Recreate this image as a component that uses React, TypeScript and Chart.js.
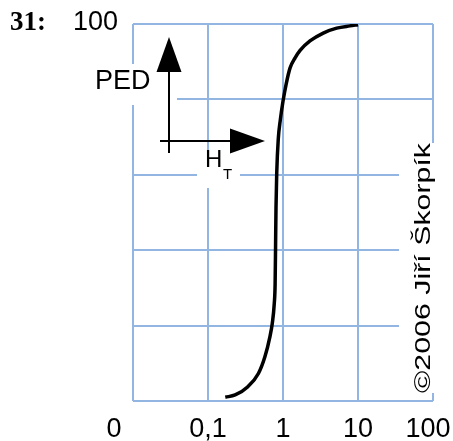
import React, { useEffect, useRef } from "react";
import { Chart, registerables } from "chart.js";

Chart.register(...registerables);

// x axis: H_T on a decade (log) scale, labels as printed in the figure
const xTickValues = [0.01, 0.1, 1, 10, 100];
const xTickLabels = ["0", "0,1", "1", "10", "100"];
const yTickValues = [0, 20, 40, 60, 80, 100];
const yTopLabel = "100";
const figureNumber = "31:";
const yAxisName = "PED";
const xAxisName = "H";
const xAxisSub = "T";
const copyright = "©2006 Jiří Škorpík";

// curve
const hValues = [0.17, 0.23, 0.34, 0.47, 0.575, 0.67, 0.72, 0.765, 0.785, 0.797, 0.807, 0.825, 0.865, 0.92, 1.0, 1.1, 1.24, 1.45, 1.69, 2.29, 3.44, 5.2, 7.8, 10];
const pedValues = [1.0, 1.6, 3.8, 7.3, 11.8, 17.1, 20.6, 25.9, 31, 42, 51.5, 60.5, 69.5, 74.5, 79.5, 84, 88.3, 91, 93, 95.5, 97.6, 98.9, 99.5, 99.8];

const GRID = "#93b5e1";

const overlay = {
  id: "overlay",
  beforeDatasetsDraw(chart: any) {
    const ctx = chart.ctx as CanvasRenderingContext2D;
    const xs = chart.scales.x;
    const ys = chart.scales.y;
    ctx.save();
    // white backgrounds that interrupt the grid
    ctx.fillStyle = "#ffffff";
    ctx.fillRect(92, 64, 85, 41);
    ctx.fillRect(197, 151, 43, 37);
    ctx.fillRect(399, 143, 42, 250);

    ctx.fillStyle = "#000000";
    ctx.strokeStyle = "#000000";
    ctx.textBaseline = "alphabetic";

    // figure number
    ctx.font = "bold 27px 'Liberation Serif', 'Times New Roman', serif";
    ctx.textAlign = "left";
    ctx.fillText(figureNumber, 10, 30);

    // top y label
    ctx.font = "27px 'Liberation Sans', Arial, sans-serif";
    ctx.textAlign = "right";
    ctx.fillText(yTopLabel, xs.left - 15, ys.getPixelForValue(100) + 6);

    // x tick labels
    ctx.textAlign = "center";
    xTickValues.forEach((v, i) => {
      let px = xs.getPixelForValue(v);
      if (i === 0) px -= 19;
      if (i === xTickValues.length - 1) px -= 5;
      ctx.fillText(xTickLabels[i], px, ys.bottom + 36);
    });

    // PED
    ctx.textAlign = "left";
    ctx.fillText(yAxisName, 95, 89);

    // H_T
    ctx.font = "24px 'Liberation Sans', Arial, sans-serif";
    ctx.fillText(xAxisName, 205, 167);
    ctx.font = "15px 'Liberation Sans', Arial, sans-serif";
    ctx.fillText(xAxisSub, 223, 179);

    // arrows
    ctx.lineWidth = 2;
    ctx.beginPath();
    ctx.moveTo(169, 153);
    ctx.lineTo(169, 70);
    ctx.moveTo(160, 141);
    ctx.lineTo(232, 141);
    ctx.stroke();
    ctx.beginPath();
    ctx.moveTo(169, 37);
    ctx.lineTo(156.5, 72);
    ctx.lineTo(181.5, 72);
    ctx.closePath();
    ctx.fill();
    ctx.beginPath();
    ctx.moveTo(265, 141);
    ctx.lineTo(230, 128.5);
    ctx.lineTo(230, 153.5);
    ctx.closePath();
    ctx.fill();

    // copyright, rotated
    ctx.save();
    ctx.translate(430, 393);
    ctx.rotate(-Math.PI / 2);
    ctx.font = "22px 'Liberation Sans', Arial, sans-serif";
    const w = ctx.measureText(copyright).width;
    ctx.scale(250 / w, 1);
    ctx.textAlign = "left";
    ctx.fillText(copyright, 0, 0);
    ctx.restore();

    ctx.restore();
  },
};

export default function App() {
  const ref = useRef<HTMLCanvasElement>(null);
  useEffect(() => {
    document.body.style.margin = "0";
    const canvas = ref.current!;
    const chart = new Chart(canvas, {
      type: "line",
      data: {
        datasets: [
          {
            data: hValues.map((h, i) => ({ x: h, y: pedValues[i] })),
            borderColor: "#000000",
            borderWidth: 3.5,
            pointRadius: 0,
            cubicInterpolationMode: "monotone",
            fill: false,
          },
        ],
      },
      options: {
        animation: false,
        responsive: false,
        devicePixelRatio: 1,
        layout: { padding: { left: 133, right: 20, top: 24, bottom: 40 } },
        plugins: { legend: { display: false }, tooltip: { enabled: false } },
        scales: {
          x: {
            type: "logarithmic",
            min: 0.01,
            max: 100,
            afterBuildTicks: (s: any) => {
              s.ticks = xTickValues.map((v) => ({ value: v }));
            },
            ticks: { display: false },
            grid: { color: GRID, lineWidth: 2, drawTicks: false },
            border: { display: false },
          },
          y: {
            type: "linear",
            min: 0,
            max: 100,
            afterBuildTicks: (s: any) => {
              s.ticks = yTickValues.map((v) => ({ value: v }));
            },
            ticks: { display: false },
            grid: { color: GRID, lineWidth: 2, drawTicks: false },
            border: { display: false },
          },
        },
      },
      plugins: [overlay],
    });
    return () => chart.destroy();
  }, []);
  return <canvas ref={ref} width={453} height={441} style={{ display: "block" }} />;
}
